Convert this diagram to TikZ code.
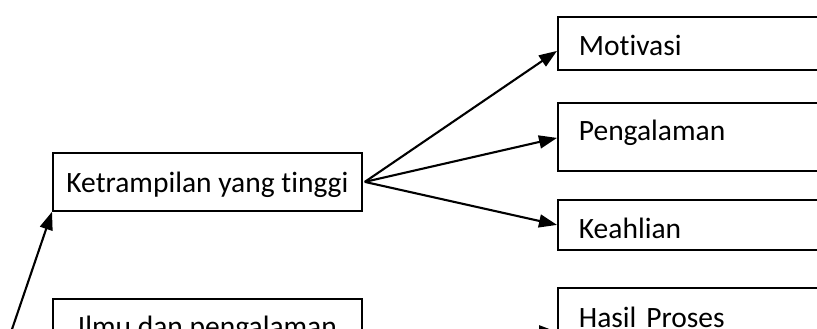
\documentclass[tikz,border=0pt]{standalone}
\usepackage{fontspec}
\setmainfont[Ligatures=NoCommon]{Carlito}
\usetikzlibrary{arrows.meta}
\begin{document}
\begin{tikzpicture}[x=1pt,y=-1pt,
  box/.style={draw=black, line width=1.8pt, inner ysep=0pt, anchor=north west,
    font=\fontsize{29.5}{34}\selectfont},
  leftbox/.style={box, inner xsep=21pt, text width=380pt, align=left},
  midbox/.style={box, inner xsep=0pt, minimum width=309pt},
  arr/.style={line width=2.1pt, -{Triangle[length=18pt,width=13pt]}}]
\useasboundingbox (0,0) rectangle (817,329);
\fill[white] (0,0) rectangle (817,329);
% right column
\node[leftbox, text height=39pt, text depth=14pt] (mot) at (557,16) {Motivasi};
\node[leftbox, text height=38pt, text depth=30pt] (pen) at (557,102) {Pengalaman};
\node[leftbox, text height=39pt, text depth=11pt] (kea) at (557,199) {Keahlian};
\node[leftbox, text height=40pt, text depth=48pt] (has) at (557,287) {Hasil Proses};
% left column
\node[midbox, text height=40pt, text depth=18pt] (ket) at (52,152) {Ketrampilan yang tinggi};
\node[midbox, text height=38pt, text depth=28pt] (ilm) at (52,298) {Ilmu dan pengalaman};
% connectors
\coordinate (low) at (8,341);
\draw[arr] (low) -- (ket.south west);
\draw[arr] ([xshift=2pt]ket.east) -- ([yshift=-7.5pt]mot.west);
\draw[arr] ([xshift=2pt]ket.east) -- ([yshift=-1pt]pen.west);
\draw[arr] ([xshift=2pt]ket.east) -- (kea.west);
\draw[arr] (ilm.east) -- (has.west);
\end{tikzpicture}
\end{document}
